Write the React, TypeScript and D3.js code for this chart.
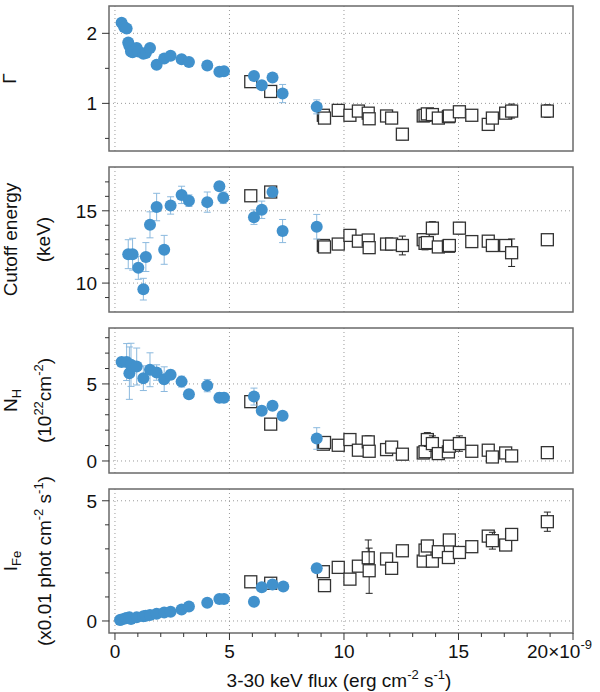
import React from "react";
import * as d3 from "d3";

// ---------- data ----------
const xMajorTicks = [0, 5, 10, 15, 20];
const xMinorTicks = [1, 2, 3, 4, 6, 7, 8, 9, 11, 12, 13, 14, 16, 17, 18, 19];

// square (open) observations share flux values
const sqX = [5.93, 6.8, 9.1, 9.15, 9.75, 10.26, 10.63, 11.06, 11.1, 11.86, 12.08, 12.55, 13.46, 13.54, 13.64, 13.86, 14.12, 14.56, 14.6, 15.04, 15.58, 16.3, 16.48, 17.06, 17.32, 18.88];

// Panel 1: Gamma
const gamCircX = [0.29, 0.4, 0.51, 0.58, 0.63, 0.7, 0.77, 0.95, 1.02, 1.24, 1.35, 1.53, 1.82, 2.15, 2.43, 2.91, 3.23, 4.03, 4.56, 4.76, 6.07, 6.41, 6.88, 7.32, 8.81];
const gamCircY = [2.15, 2.09, 2.07, 1.87, 1.82, 1.74, 1.73, 1.79, 1.74, 1.71, 1.72, 1.79, 1.55, 1.64, 1.68, 1.63, 1.59, 1.54, 1.45, 1.46, 1.39, 1.26, 1.37, 1.14, 0.95];
const gamCircE = [0.03, 0.03, 0.03, 0.04, 0.04, 0.04, 0.04, 0.04, 0.04, 0.04, 0.04, 0.04, 0.03, 0.03, 0.03, 0.03, 0.03, 0.03, 0.03, 0.03, 0.04, 0.04, 0.04, 0.13, 0.1];
const gamSqY = [1.31, 1.17, 0.83, 0.79, 0.9, 0.83, 0.89, 0.86, 0.78, 0.82, 0.79, 0.56, 0.82, 0.83, 0.85, 0.84, 0.79, 0.81, 0.82, 0.88, 0.83, 0.7, 0.79, 0.86, 0.89, 0.89];
const gamSqE = [0.04, 0.04, 0.04, 0.04, 0.04, 0.04, 0.04, 0.04, 0.05, 0.04, 0.04, 0.08, 0.04, 0.04, 0.05, 0.06, 0.04, 0.04, 0.05, 0.04, 0.04, 0.04, 0.04, 0.04, 0.1, 0.09];

// Panel 2: Cutoff energy (keV)
const ecCircX = [0.58, 0.77, 1.02, 1.24, 1.35, 1.53, 1.82, 2.15, 2.43, 2.91, 3.23, 4.03, 4.56, 4.73, 6.07, 6.41, 6.88, 7.32, 8.81];
const ecCircY = [12.0, 12.0, 11.06, 9.58, 11.8, 14.03, 15.26, 12.3, 15.37, 16.1, 15.7, 15.6, 16.7, 15.9, 14.56, 15.07, 16.3, 13.6, 13.9];
const ecCircE = [1.0, 1.1, 0.8, 0.75, 1.0, 0.9, 0.95, 1.0, 0.6, 0.6, 0.4, 0.7, 0.3, 0.4, 0.5, 0.6, 0.3, 0.8, 0.85];
const ecSqY = [16.04, 16.3, 12.6, 12.5, 12.7, 13.3, 12.9, 12.98, 12.45, 12.7, 12.7, 12.6, 13.0, 12.75, 12.8, 13.8, 12.5, 12.55, 12.6, 13.8, 12.87, 12.9, 12.6, 12.6, 12.1, 13.0];
const ecSqE = [0.3, 0.3, 0.35, 0.3, 0.3, 0.3, 0.35, 0.3, 0.3, 0.3, 0.3, 0.65, 0.4, 0.45, 0.3, 0.45, 0.3, 0.3, 0.3, 0.4, 0.3, 0.3, 0.3, 0.3, 0.95, 0.3];

// Panel 3: NH (1e22 cm^-2)
const nhCircX = [0.29, 0.51, 0.63, 0.7, 0.95, 1.24, 1.53, 1.82, 2.15, 2.43, 2.91, 3.23, 4.03, 4.56, 4.76, 6.07, 6.41, 6.88, 7.32, 8.81];
const nhCircY = [6.42, 6.42, 5.7, 6.24, 6.13, 5.37, 5.92, 5.74, 5.31, 5.59, 5.15, 4.33, 4.89, 4.11, 4.11, 4.18, 3.26, 3.59, 2.94, 1.46];
const nhCircE = [0.3, 1.2, 1.7, 1.4, 1.2, 0.8, 1.1, 0.5, 0.8, 0.3, 0.35, 0.2, 0.4, 0.3, 0.3, 0.55, 0.2, 0.2, 0.2, 0.7];
const nhSqY = [3.85, 2.39, 1.09, 1.2, 1.02, 1.39, 0.7, 1.24, 0.63, 0.74, 0.9, 0.44, 0.52, 0.6, 1.39, 1.13, 0.48, 0.59, 0.96, 1.13, 0.63, 0.7, 0.26, 0.52, 0.33, 0.54];
const nhSqE = [0.3, 0.2, 0.3, 0.3, 0.2, 0.3, 0.3, 0.4, 0.3, 0.3, 0.3, 0.2, 0.2, 0.3, 0.45, 0.5, 0.3, 0.3, 0.3, 0.5, 0.2, 0.3, 0.2, 0.3, 0.3, 0.3];

// Panel 4: I_Fe (0.01 phot cm^-2 s^-1)
const feCircX = [0.22, 0.29, 0.44, 0.51, 0.63, 0.7, 0.95, 1.24, 1.35, 1.53, 1.82, 2.15, 2.43, 2.91, 3.23, 4.03, 4.56, 4.76, 6.07, 6.41, 6.88, 7.35, 8.81];
const feCircY = [0.04, 0.06, 0.1, 0.12, 0.15, 0.08, 0.15, 0.2, 0.22, 0.25, 0.3, 0.35, 0.38, 0.48, 0.6, 0.76, 0.91, 0.91, 0.8, 1.4, 1.52, 1.43, 2.19];
const feCircE = [0.03, 0.03, 0.03, 0.03, 0.03, 0.03, 0.03, 0.03, 0.03, 0.04, 0.04, 0.04, 0.04, 0.05, 0.05, 0.06, 0.07, 0.07, 0.08, 0.1, 0.1, 0.1, 0.15];
const feSqY = [1.63, 1.57, 2.05, 1.47, 2.23, 1.74, 2.28, 2.63, 2.09, 2.58, 2.19, 2.92, 2.49, 2.95, 3.12, 2.49, 2.88, 2.64, 3.37, 2.85, 3.09, 3.53, 3.34, 3.16, 3.6, 4.13];
const feSqE = [0.15, 0.15, 0.2, 0.2, 0.2, 0.2, 0.2, 0.74, 0.94, 0.2, 0.2, 0.22, 0.2, 0.2, 0.2, 0.2, 0.2, 0.2, 0.22, 0.2, 0.2, 0.2, 0.35, 0.2, 0.2, 0.4];

// ---------- layout ----------
const FONT = "'Liberation Sans', Arial, Helvetica, sans-serif";
const FS = 19;
const FSS = 13;
const CIRC = "#4191cc";
const CIRC_ERR = "#8bb9de";
const LEFT = 109;
const RIGHT = 573;

type Panel = {
  top: number;
  bottom: number;
  domain: [number, number];
  major: number[];
  minor: number[];
  cx: number[];
  cy: number[];
  ce: number[];
  sy: number[];
  se: number[];
  label: React.ReactNode;
};

const labelGamma = (cy: number) => (
  <text transform={`translate(16,${cy}) rotate(-90)`} textAnchor="middle" fontSize={FS}>Γ</text>
);
const labelEc = (cy: number) => (
  <g>
    <text transform={`translate(17,${cy}) rotate(-90)`} textAnchor="middle" fontSize={FS}>Cutoff energy</text>
    <text transform={`translate(50,${cy}) rotate(-90)`} textAnchor="middle" fontSize={FS}>(keV)</text>
  </g>
);
const labelNh = (cy: number) => (
  <g>
    <text transform={`translate(17,${cy}) rotate(-90)`} textAnchor="middle" fontSize={FS}>
      N<tspan fontSize={FSS} dy={4}>H</tspan>
    </text>
    <text transform={`translate(51,${cy}) rotate(-90)`} textAnchor="middle" fontSize={FS}>
      (10<tspan fontSize={FSS} dy={-8}>22</tspan><tspan dy={8}>cm</tspan><tspan fontSize={FSS} dy={-8}>-2</tspan><tspan dy={8}>)</tspan>
    </text>
  </g>
);
const labelFe = (cy: number) => (
  <g>
    <text transform={`translate(17,${cy}) rotate(-90)`} textAnchor="middle" fontSize={FS}>
      I<tspan fontSize={FSS} dy={4}>Fe</tspan>
    </text>
    <text transform={`translate(51,${cy}) rotate(-90)`} textAnchor="middle" fontSize={FS}>
      (x0.01 phot cm<tspan fontSize={FSS} dy={-8}>-2</tspan><tspan dy={8}> s</tspan><tspan fontSize={FSS} dy={-8}>-1</tspan><tspan dy={8}>)</tspan>
    </text>
  </g>
);

const panels: Panel[] = [
  { top: 6, bottom: 151, domain: [0.32, 2.39], major: [1, 2], minor: [0.5, 1.5], cx: gamCircX, cy: gamCircY, ce: gamCircE, sy: gamSqY, se: gamSqE, label: labelGamma(78.5) },
  { top: 167, bottom: 312, domain: [8, 18.03], major: [10, 15], minor: [9, 11, 12, 13, 14, 16, 17], cx: ecCircX, cy: ecCircY, ce: ecCircE, sy: ecSqY, se: ecSqE, label: labelEc(239.5) },
  { top: 328, bottom: 473, domain: [-0.78, 8.63], major: [0, 5], minor: [1, 2, 3, 4, 6, 7, 8], cx: nhCircX, cy: nhCircY, ce: nhCircE, sy: nhSqY, se: nhSqE, label: labelNh(400.5) },
  { top: 489, bottom: 633, domain: [-0.5, 5.49], major: [0, 5], minor: [1, 2, 3, 4], cx: feCircX, cy: feCircY, ce: feCircE, sy: feSqY, se: feSqE, label: labelFe(561) },
];

const x = d3.scaleLinear().domain([-0.26, 20]).range([LEFT, RIGHT]);

function PanelView({ p, last }: { p: Panel; last: boolean }) {
  const y = d3.scaleLinear().domain(p.domain).range([p.bottom, p.top]);
  const clipId = `clip${p.top}`;
  return (
    <g>
      <defs>
        <clipPath id={clipId}>
          <rect x={LEFT} y={p.top} width={RIGHT - LEFT} height={p.bottom - p.top} />
        </clipPath>
      </defs>
      <rect x={LEFT} y={p.top} width={RIGHT - LEFT} height={p.bottom - p.top} fill="white" />
      {/* grid */}
      {xMajorTicks.filter((t) => t < 20).map((t) => (
        <line key={`gx${t}`} x1={x(t)} x2={x(t)} y1={p.top} y2={p.bottom} stroke="#9a9a9a" strokeWidth={1} strokeDasharray="1 3" />
      ))}
      {p.major.map((t) => (
        <line key={`gy${t}`} x1={LEFT} x2={RIGHT} y1={y(t)} y2={y(t)} stroke="#9a9a9a" strokeWidth={1} strokeDasharray="1 3" />
      ))}
      <g clipPath={`url(#${clipId})`}>
        {/* squares */}
        {sqX.map((xv, i) => {
          const cx = x(xv);
          const yv = p.sy[i];
          const e = p.se[i];
          return (
            <g key={`s${i}`}>
              <line x1={cx} x2={cx} y1={y(yv + e)} y2={y(yv - e)} stroke="#222" strokeWidth={1} />
              <line x1={cx - 3.5} x2={cx + 3.5} y1={y(yv + e)} y2={y(yv + e)} stroke="#222" strokeWidth={1} />
              <line x1={cx - 3.5} x2={cx + 3.5} y1={y(yv - e)} y2={y(yv - e)} stroke="#222" strokeWidth={1} />
              <rect x={cx - 6} y={y(yv) - 6} width={12} height={12} fill="white" stroke="#333" strokeWidth={1.3} />
            </g>
          );
        })}
        {/* circle error bars */}
        {p.cx.map((xv, i) => {
          const cx = x(xv);
          const yv = p.cy[i];
          const e = p.ce[i];
          return (
            <g key={`ce${i}`}>
              <line x1={cx} x2={cx} y1={y(yv + e)} y2={y(yv - e)} stroke={CIRC_ERR} strokeWidth={1} />
              <line x1={cx - 3.5} x2={cx + 3.5} y1={y(yv + e)} y2={y(yv + e)} stroke={CIRC_ERR} strokeWidth={1} />
              <line x1={cx - 3.5} x2={cx + 3.5} y1={y(yv - e)} y2={y(yv - e)} stroke={CIRC_ERR} strokeWidth={1} />
            </g>
          );
        })}
        {p.cx.map((xv, i) => (
          <circle key={`c${i}`} cx={x(xv)} cy={y(p.cy[i])} r={6} fill={CIRC} />
        ))}
      </g>
      {/* frame */}
      <rect x={LEFT} y={p.top} width={RIGHT - LEFT} height={p.bottom - p.top} fill="none" stroke="#6a6a6a" strokeWidth={1.5} />
      {/* y ticks */}
      {p.major.map((t) => (
        <g key={`ym${t}`}>
          <line x1={LEFT - 7} x2={LEFT} y1={y(t)} y2={y(t)} stroke="#333" strokeWidth={1} />
          <text x={97} y={y(t)} dy="0.36em" textAnchor="end" fontSize={FS}>{t}</text>
        </g>
      ))}
      {p.minor.map((t) => (
        <line key={`yn${t}`} x1={LEFT - 4} x2={LEFT} y1={y(t)} y2={y(t)} stroke="#333" strokeWidth={1} />
      ))}
      {p.label}
      {last && (
        <g>
          {xMajorTicks.map((t) => (
            <line key={`xm${t}`} x1={x(t)} x2={x(t)} y1={p.bottom} y2={p.bottom + 7} stroke="#333" strokeWidth={1} />
          ))}
          {xMinorTicks.map((t) => (
            <line key={`xn${t}`} x1={x(t)} x2={x(t)} y1={p.bottom} y2={p.bottom + 4} stroke="#333" strokeWidth={1} />
          ))}
          {xMajorTicks.slice(0, 4).map((t) => (
            <text key={`xl${t}`} x={x(t)} y={658} textAnchor="middle" fontSize={FS}>{t}</text>
          ))}
          <text x={527} y={658} fontSize={FS}>
            20×10<tspan fontSize={FSS} dy={-9}>-9</tspan>
          </text>
        </g>
      )}
    </g>
  );
}

export default function App() {
  return (
    <svg width={600} height={692} style={{ position: "absolute", left: 0, top: 0, display: "block", background: "white" }} fontFamily={FONT} fill="#111">
      <rect width={600} height={692} fill="white" />
      {panels.map((p, i) => (
        <PanelView key={i} p={p} last={i === panels.length - 1} />
      ))}
      <text x={339} y={687} textAnchor="middle" fontSize={FS}>
        3-30 keV flux (erg cm<tspan fontSize={FSS} dy={-8}>-2</tspan><tspan dy={8}> s</tspan><tspan fontSize={FSS} dy={-8}>-1</tspan><tspan dy={8}>)</tspan>
      </text>
    </svg>
  );
}
